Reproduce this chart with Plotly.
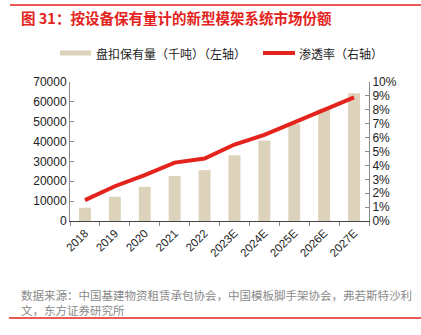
import plotly.graph_objects as go

years = ["2018", "2019", "2020", "2021", "2022", "2023E", "2024E", "2025E", "2026E", "2027E"]
stock_kt = [6700, 12200, 17200, 22700, 25600, 33100, 40500, 48900, 56300, 64300]
penetration = [0.015, 0.025, 0.033, 0.042, 0.045, 0.055, 0.062, 0.071, 0.080, 0.089]

bar_name = "盘扣保有量（千吨）（左轴）"
line_name = "渗透率（右轴）"
title_text = "图 31：按设备保有量计的新型模架系统市场份额"
source_text = "数据来源：中国基建物资租赁承包协会，中国模板脚手架协会，弗若斯特沙利<br>文，东方证券研究所"

W, H = 421, 335
L, R, T, B = 70, 369, 82, 221
FONT = "Liberation Sans, Arial, Noto Sans CJK SC"
CJK = "Noto Sans CJK SC, Liberation Sans"
BAR_COLOR = "#ddd3bc"
LINE_COLOR = "#e3231c"
AXIS_COLOR = "#8c8c8c"


def px(x):
    return (x - L) / (R - L)


def py(y):
    return (B - y) / (B - T)


fig = go.Figure()
fig.add_trace(go.Bar(x=years, y=stock_kt, name=bar_name, marker_color=BAR_COLOR,
                     marker_line_width=0, yaxis="y", showlegend=False))
fig.add_trace(go.Scatter(x=years, y=penetration, name=line_name, mode="lines",
                         line=dict(color=LINE_COLOR, width=4), yaxis="y2",
                         showlegend=False))

shapes = [
    # red rules framing the figure
    dict(type="line", xref="paper", yref="paper", x0=px(10), x1=px(421), y0=py(5), y1=py(5),
         line=dict(color=LINE_COLOR, width=1.5)),
    dict(type="line", xref="paper", yref="paper", x0=px(9), x1=px(421), y0=py(318), y1=py(318),
         line=dict(color=LINE_COLOR, width=1.5)),
    # legend swatches
    dict(type="rect", xref="paper", yref="paper", x0=px(60), x1=px(91), y0=py(55.5), y1=py(50.5),
         fillcolor=BAR_COLOR, line_width=0),
    dict(type="line", xref="paper", yref="paper", x0=px(263), x1=px(295), y0=py(53), y1=py(53),
         line=dict(color=LINE_COLOR, width=4)),
]

annotations = [
    dict(text=title_text, xref="paper", yref="paper", x=px(19), y=py(17), xanchor="left",
         yanchor="middle", showarrow=False,
         font=dict(family=CJK, size=14.5, color=LINE_COLOR, weight="bold")),
    dict(text=bar_name, xref="paper", yref="paper", x=px(94), y=py(53), xanchor="left",
         yanchor="middle", showarrow=False, font=dict(family=CJK, size=12, color="#222222")),
    dict(text=line_name, xref="paper", yref="paper", x=px(297), y=py(53), xanchor="left",
         yanchor="middle", showarrow=False, font=dict(family=CJK, size=12, color="#222222")),
    dict(text=source_text, xref="paper", yref="paper", x=px(19), y=py(302), xanchor="left",
         yanchor="middle", align="left", showarrow=False,
         font=dict(family=CJK, size=11.5, color="#8a8a8a")),
]

fig.update_layout(
    width=W, height=H,
    margin=dict(l=L, r=W - R, t=T, b=H - B, pad=0),
    paper_bgcolor="white", plot_bgcolor="white",
    font=dict(family=FONT, size=12, color="#222222"),
    bargap=0.6,
    showlegend=False,
    shapes=shapes,
    annotations=annotations,
    xaxis=dict(type="category", showline=True, linecolor="#444444", linewidth=1,
               ticks="outside", ticklen=4, tickcolor=AXIS_COLOR, tickson="boundaries",
               tickangle=-45, tickfont=dict(size=11.5), showgrid=False),
    yaxis=dict(range=[0, 70000], dtick=10000, showline=True, linecolor=AXIS_COLOR,
               ticks="inside", ticklen=4, tickcolor=AXIS_COLOR, showgrid=False,
               zeroline=False, tickformat="d", tickfont=dict(size=12)),
    yaxis2=dict(range=[0, 0.10], dtick=0.01, overlaying="y", side="right", showline=True,
                linecolor=AXIS_COLOR, ticks="inside", ticklen=4, tickcolor=AXIS_COLOR,
                showgrid=False, zeroline=False, tickformat=".0%", tickfont=dict(size=12)),
)

fig.write_html("out.html")
